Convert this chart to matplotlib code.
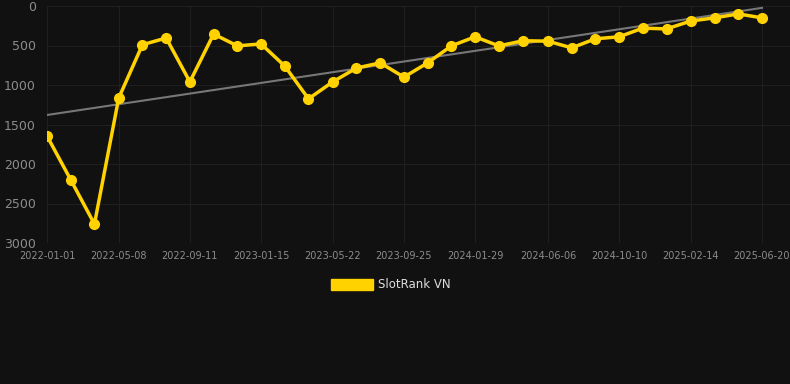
import matplotlib.pyplot as plt
import matplotlib.dates as mdates
import matplotlib.patches as mpatches
import numpy as np

dates = ['2022-01-01', '2022-02-12', '2022-03-26', '2022-05-08', '2022-06-19', '2022-07-31',
         '2022-09-11', '2022-10-23', '2022-12-04', '2023-01-15', '2023-02-26', '2023-04-09',
         '2023-05-22', '2023-07-03', '2023-08-14', '2023-09-25', '2023-11-06', '2023-12-18',
         '2024-01-29', '2024-03-11', '2024-04-23', '2024-06-06', '2024-07-18', '2024-08-29',
         '2024-10-10', '2024-11-21', '2025-01-02', '2025-02-14', '2025-03-28', '2025-05-09',
         '2025-06-20']
ranks = [1645, 2200, 2760, 1165, 490, 405, 960, 355, 505, 480, 760, 1175,
         960, 785, 720, 900, 720, 505, 390, 505, 440, 445, 530, 415,
         390, 280, 290, 190, 150, 100, 150]
tick_dates = ['2022-01-01', '2022-05-08', '2022-09-11', '2023-01-15', '2023-05-22',
              '2023-09-25', '2024-01-29', '2024-06-06', '2024-10-10', '2025-02-14',
              '2025-06-20']
y_ticks = [0, 500, 1000, 1500, 2000, 2500, 3000]

bg = '#111111'
gold = '#FFD200'

x = mdates.datestr2num(dates)
xt = mdates.datestr2num(tick_dates)

fig = plt.figure(figsize=(7.9, 3.84), dpi=100, facecolor=bg)
ax = fig.add_axes([47 / 790, (384 - 243) / 384, 743 / 790, 237 / 384], facecolor=bg)

# trend line (linear fit)
k, b = np.polyfit(x, ranks, 1)
ax.plot([x[0], x[-1]], [k * x[0] + b, k * x[-1] + b], color='#777777', lw=1.5, zorder=2)

ax.plot(x, ranks, color=gold, lw=2.5, marker='o', markersize=7, zorder=3)

ax.set_ylim(3000, 0)
ax.set_xlim(x[0], x[-1] + 28 * (x[-1] - x[0]) / 715)
ax.set_yticks(y_ticks)
ax.set_xticks(xt)
ax.set_xticklabels(tick_dates)
ax.tick_params(axis='y', colors='#8c8c8c', labelsize=9, length=0, pad=8)
ax.tick_params(axis='x', colors='#8c8c8c', labelsize=7, length=0, pad=6)
ax.grid(True, color='#1f1f1f', lw=0.8)
for s in ax.spines.values():
    s.set_visible(False)

handle = mpatches.Patch(color=gold, label='SlotRank VN')
leg = fig.legend(handles=[handle], loc='center', bbox_to_anchor=(391 / 790, 1 - 285 / 384),
                 frameon=False, fontsize=8.5, labelcolor='#dddddd',
                 handlelength=3.5, handleheight=1.1, handletextpad=0.45)

plt.savefig('out.png', facecolor=bg)
